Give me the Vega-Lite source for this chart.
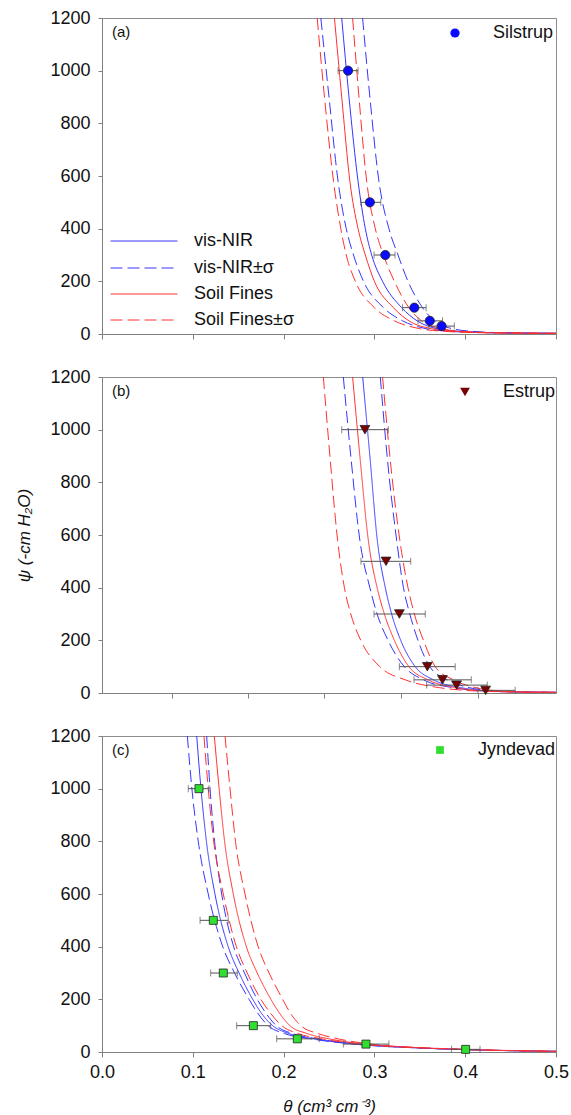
{
"$schema": "https://vega.github.io/schema/vega-lite/v6.json",
"padding": {"left": 15, "top": 8, "right": 5, "bottom": 0},
"spacing": 23,
"config": {
 "font": "Liberation Sans",
 "view": {"stroke": "#8c8c8c"},
 "axis": {"domainColor": "#808080", "tickColor": "#808080", "labelColor": "#111", "labelFontSize": 18, "labelFont": "Liberation Sans", "titleFont": "Liberation Sans", "titleFontSize": 17, "titleFontWeight": "normal", "titleFontStyle": "italic", "titleColor": "#111", "grid": false, "tickSize": 5, "labelPadding": 8},
 "axisX": {"labelFlush": false},
 "legend": {"labelFont": "Liberation Sans", "labelFontSize": 18, "labelColor": "#111"},
 "title": {"font": "Liberation Sans", "fontSize": 15, "fontWeight": "normal", "color": "#111"}
},
"datasets": {
"curves": [
{"p":"a","c":"Soil Fines±σ","id":"RDL","t":0.237,"y":1200},{"p":"a","c":"Soil Fines±σ","id":"RDL","t":0.245,"y":900},{"p":"a","c":"Soil Fines±σ","id":"RDL","t":0.255,"y":580},{"p":"a","c":"Soil Fines±σ","id":"RDL","t":0.263,"y":400},{"p":"a","c":"Soil Fines±σ","id":"RDL","t":0.269,"y":300},{"p":"a","c":"Soil Fines±σ","id":"RDL","t":0.279,"y":200},{"p":"a","c":"Soil Fines±σ","id":"RDL","t":0.300,"y":100},{"p":"a","c":"Soil Fines±σ","id":"RDL","t":0.322,"y":50},{"p":"a","c":"Soil Fines±σ","id":"RDL","t":0.350,"y":20},{"p":"a","c":"Soil Fines±σ","id":"RDL","t":0.378,"y":10},{"p":"a","c":"Soil Fines±σ","id":"RDL","t":0.415,"y":5},{"p":"a","c":"Soil Fines±σ","id":"RDL","t":0.5,"y":2.5},
{"p":"a","c":"vis-NIR±σ","id":"BDL","t":0.241,"y":1200},{"p":"a","c":"vis-NIR±σ","id":"BDL","t":0.250,"y":900},{"p":"a","c":"vis-NIR±σ","id":"BDL","t":0.260,"y":580},{"p":"a","c":"vis-NIR±σ","id":"BDL","t":0.269,"y":400},{"p":"a","c":"vis-NIR±σ","id":"BDL","t":0.277,"y":300},{"p":"a","c":"vis-NIR±σ","id":"BDL","t":0.288,"y":200},{"p":"a","c":"vis-NIR±σ","id":"BDL","t":0.310,"y":100},{"p":"a","c":"vis-NIR±σ","id":"BDL","t":0.331,"y":50},{"p":"a","c":"vis-NIR±σ","id":"BDL","t":0.357,"y":20},{"p":"a","c":"vis-NIR±σ","id":"BDL","t":0.384,"y":10},{"p":"a","c":"vis-NIR±σ","id":"BDL","t":0.420,"y":5},{"p":"a","c":"vis-NIR±σ","id":"BDL","t":0.5,"y":2.5},
{"p":"a","c":"Soil Fines","id":"RS","t":0.256,"y":1200},{"p":"a","c":"Soil Fines","id":"RS","t":0.264,"y":900},{"p":"a","c":"Soil Fines","id":"RS","t":0.273,"y":580},{"p":"a","c":"Soil Fines","id":"RS","t":0.282,"y":400},{"p":"a","c":"Soil Fines","id":"RS","t":0.290,"y":300},{"p":"a","c":"Soil Fines","id":"RS","t":0.300,"y":200},{"p":"a","c":"Soil Fines","id":"RS","t":0.321,"y":100},{"p":"a","c":"Soil Fines","id":"RS","t":0.338,"y":50},{"p":"a","c":"Soil Fines","id":"RS","t":0.363,"y":20},{"p":"a","c":"Soil Fines","id":"RS","t":0.389,"y":10},{"p":"a","c":"Soil Fines","id":"RS","t":0.425,"y":5},{"p":"a","c":"Soil Fines","id":"RS","t":0.5,"y":2.5},
{"p":"a","c":"vis-NIR","id":"BS","t":0.264,"y":1200},{"p":"a","c":"vis-NIR","id":"BS","t":0.272,"y":900},{"p":"a","c":"vis-NIR","id":"BS","t":0.282,"y":580},{"p":"a","c":"vis-NIR","id":"BS","t":0.290,"y":400},{"p":"a","c":"vis-NIR","id":"BS","t":0.297,"y":300},{"p":"a","c":"vis-NIR","id":"BS","t":0.309,"y":200},{"p":"a","c":"vis-NIR","id":"BS","t":0.330,"y":100},{"p":"a","c":"vis-NIR","id":"BS","t":0.347,"y":50},{"p":"a","c":"vis-NIR","id":"BS","t":0.369,"y":20},{"p":"a","c":"vis-NIR","id":"BS","t":0.394,"y":10},{"p":"a","c":"vis-NIR","id":"BS","t":0.430,"y":5},{"p":"a","c":"vis-NIR","id":"BS","t":0.5,"y":2.5},
{"p":"a","c":"Soil Fines±σ","id":"RDR","t":0.276,"y":1200},{"p":"a","c":"Soil Fines±σ","id":"RDR","t":0.283,"y":900},{"p":"a","c":"Soil Fines±σ","id":"RDR","t":0.2915,"y":580},{"p":"a","c":"Soil Fines±σ","id":"RDR","t":0.301,"y":400},{"p":"a","c":"Soil Fines±σ","id":"RDR","t":0.310,"y":300},{"p":"a","c":"Soil Fines±σ","id":"RDR","t":0.322,"y":200},{"p":"a","c":"Soil Fines±σ","id":"RDR","t":0.338,"y":100},{"p":"a","c":"Soil Fines±σ","id":"RDR","t":0.352,"y":50},{"p":"a","c":"Soil Fines±σ","id":"RDR","t":0.374,"y":20},{"p":"a","c":"Soil Fines±σ","id":"RDR","t":0.398,"y":10},{"p":"a","c":"Soil Fines±σ","id":"RDR","t":0.433,"y":5},{"p":"a","c":"Soil Fines±σ","id":"RDR","t":0.5,"y":2.5},
{"p":"a","c":"vis-NIR±σ","id":"BDR","t":0.287,"y":1200},{"p":"a","c":"vis-NIR±σ","id":"BDR","t":0.295,"y":900},{"p":"a","c":"vis-NIR±σ","id":"BDR","t":0.305,"y":580},{"p":"a","c":"vis-NIR±σ","id":"BDR","t":0.316,"y":400},{"p":"a","c":"vis-NIR±σ","id":"BDR","t":0.326,"y":300},{"p":"a","c":"vis-NIR±σ","id":"BDR","t":0.337,"y":200},{"p":"a","c":"vis-NIR±σ","id":"BDR","t":0.353,"y":100},{"p":"a","c":"vis-NIR±σ","id":"BDR","t":0.366,"y":50},{"p":"a","c":"vis-NIR±σ","id":"BDR","t":0.386,"y":20},{"p":"a","c":"vis-NIR±σ","id":"BDR","t":0.408,"y":10},{"p":"a","c":"vis-NIR±σ","id":"BDR","t":0.440,"y":5},{"p":"a","c":"vis-NIR±σ","id":"BDR","t":0.5,"y":2.5},

{"p":"b","c":"Soil Fines±σ","id":"RDL","t":0.2438,"y":1200},{"p":"b","c":"Soil Fines±σ","id":"RDL","t":0.251,"y":900},{"p":"b","c":"Soil Fines±σ","id":"RDL","t":0.2595,"y":580},{"p":"b","c":"Soil Fines±σ","id":"RDL","t":0.267,"y":400},{"p":"b","c":"Soil Fines±σ","id":"RDL","t":0.274,"y":300},{"p":"b","c":"Soil Fines±σ","id":"RDL","t":0.285,"y":200},{"p":"b","c":"Soil Fines±σ","id":"RDL","t":0.306,"y":100},{"p":"b","c":"Soil Fines±σ","id":"RDL","t":0.334,"y":50},{"p":"b","c":"Soil Fines±σ","id":"RDL","t":0.372,"y":20},{"p":"b","c":"Soil Fines±σ","id":"RDL","t":0.400,"y":10},{"p":"b","c":"Soil Fines±σ","id":"RDL","t":0.435,"y":5},{"p":"b","c":"Soil Fines±σ","id":"RDL","t":0.5,"y":2.5},
{"p":"b","c":"vis-NIR±σ","id":"BDL","t":0.2658,"y":1200},{"p":"b","c":"vis-NIR±σ","id":"BDL","t":0.274,"y":900},{"p":"b","c":"vis-NIR±σ","id":"BDL","t":0.284,"y":580},{"p":"b","c":"vis-NIR±σ","id":"BDL","t":0.295,"y":400},{"p":"b","c":"vis-NIR±σ","id":"BDL","t":0.303,"y":300},{"p":"b","c":"vis-NIR±σ","id":"BDL","t":0.315,"y":200},{"p":"b","c":"vis-NIR±σ","id":"BDL","t":0.333,"y":100},{"p":"b","c":"vis-NIR±σ","id":"BDL","t":0.354,"y":50},{"p":"b","c":"vis-NIR±σ","id":"BDL","t":0.387,"y":20},{"p":"b","c":"vis-NIR±σ","id":"BDL","t":0.410,"y":10},{"p":"b","c":"vis-NIR±σ","id":"BDL","t":0.440,"y":5},{"p":"b","c":"vis-NIR±σ","id":"BDL","t":0.5,"y":2.5},
{"p":"b","c":"Soil Fines","id":"RS","t":0.276,"y":1200},{"p":"b","c":"Soil Fines","id":"RS","t":0.284,"y":900},{"p":"b","c":"Soil Fines","id":"RS","t":0.2933,"y":580},{"p":"b","c":"Soil Fines","id":"RS","t":0.303,"y":400},{"p":"b","c":"Soil Fines","id":"RS","t":0.311,"y":300},{"p":"b","c":"Soil Fines","id":"RS","t":0.322,"y":200},{"p":"b","c":"Soil Fines","id":"RS","t":0.338,"y":100},{"p":"b","c":"Soil Fines","id":"RS","t":0.359,"y":50},{"p":"b","c":"Soil Fines","id":"RS","t":0.390,"y":20},{"p":"b","c":"Soil Fines","id":"RS","t":0.413,"y":10},{"p":"b","c":"Soil Fines","id":"RS","t":0.443,"y":5},{"p":"b","c":"Soil Fines","id":"RS","t":0.5,"y":2.5},
{"p":"b","c":"vis-NIR","id":"BS","t":0.2871,"y":1200},{"p":"b","c":"vis-NIR","id":"BS","t":0.295,"y":900},{"p":"b","c":"vis-NIR","id":"BS","t":0.3032,"y":580},{"p":"b","c":"vis-NIR","id":"BS","t":0.312,"y":400},{"p":"b","c":"vis-NIR","id":"BS","t":0.319,"y":300},{"p":"b","c":"vis-NIR","id":"BS","t":0.329,"y":200},{"p":"b","c":"vis-NIR","id":"BS","t":0.345,"y":100},{"p":"b","c":"vis-NIR","id":"BS","t":0.365,"y":50},{"p":"b","c":"vis-NIR","id":"BS","t":0.396,"y":20},{"p":"b","c":"vis-NIR","id":"BS","t":0.418,"y":10},{"p":"b","c":"vis-NIR","id":"BS","t":0.446,"y":5},{"p":"b","c":"vis-NIR","id":"BS","t":0.5,"y":2.5},
{"p":"b","c":"vis-NIR±σ","id":"BDR","t":0.3065,"y":1200},{"p":"b","c":"vis-NIR±σ","id":"BDR","t":0.314,"y":900},{"p":"b","c":"vis-NIR±σ","id":"BDR","t":0.3245,"y":580},{"p":"b","c":"vis-NIR±σ","id":"BDR","t":0.332,"y":400},{"p":"b","c":"vis-NIR±σ","id":"BDR","t":0.339,"y":300},{"p":"b","c":"vis-NIR±σ","id":"BDR","t":0.348,"y":200},{"p":"b","c":"vis-NIR±σ","id":"BDR","t":0.361,"y":100},{"p":"b","c":"vis-NIR±σ","id":"BDR","t":0.380,"y":50},{"p":"b","c":"vis-NIR±σ","id":"BDR","t":0.405,"y":20},{"p":"b","c":"vis-NIR±σ","id":"BDR","t":0.425,"y":10},{"p":"b","c":"vis-NIR±σ","id":"BDR","t":0.452,"y":5},{"p":"b","c":"vis-NIR±σ","id":"BDR","t":0.5,"y":2.5},
{"p":"b","c":"Soil Fines±σ","id":"RDR","t":0.309,"y":1200},{"p":"b","c":"Soil Fines±σ","id":"RDR","t":0.317,"y":900},{"p":"b","c":"Soil Fines±σ","id":"RDR","t":0.328,"y":580},{"p":"b","c":"Soil Fines±σ","id":"RDR","t":0.337,"y":400},{"p":"b","c":"Soil Fines±σ","id":"RDR","t":0.344,"y":300},{"p":"b","c":"Soil Fines±σ","id":"RDR","t":0.354,"y":200},{"p":"b","c":"Soil Fines±σ","id":"RDR","t":0.367,"y":100},{"p":"b","c":"Soil Fines±σ","id":"RDR","t":0.387,"y":50},{"p":"b","c":"Soil Fines±σ","id":"RDR","t":0.412,"y":20},{"p":"b","c":"Soil Fines±σ","id":"RDR","t":0.430,"y":10},{"p":"b","c":"Soil Fines±σ","id":"RDR","t":0.455,"y":5},{"p":"b","c":"Soil Fines±σ","id":"RDR","t":0.5,"y":2.5},

{"p":"c","c":"vis-NIR±σ","id":"BDL","t":0.094,"y":1200},{"p":"c","c":"vis-NIR±σ","id":"BDL","t":0.099,"y":1000},{"p":"c","c":"vis-NIR±σ","id":"BDL","t":0.106,"y":800},{"p":"c","c":"vis-NIR±σ","id":"BDL","t":0.117,"y":600},{"p":"c","c":"vis-NIR±σ","id":"BDL","t":0.133,"y":400},{"p":"c","c":"vis-NIR±σ","id":"BDL","t":0.146,"y":300},{"p":"c","c":"vis-NIR±σ","id":"BDL","t":0.162,"y":200},{"p":"c","c":"vis-NIR±σ","id":"BDL","t":0.171,"y":150},{"p":"c","c":"vis-NIR±σ","id":"BDL","t":0.183,"y":100},{"p":"c","c":"vis-NIR±σ","id":"BDL","t":0.201,"y":70},{"p":"c","c":"vis-NIR±σ","id":"BDL","t":0.230,"y":50},{"p":"c","c":"vis-NIR±σ","id":"BDL","t":0.277,"y":30},{"p":"c","c":"vis-NIR±σ","id":"BDL","t":0.350,"y":15},{"p":"c","c":"vis-NIR±σ","id":"BDL","t":0.410,"y":8},{"p":"c","c":"vis-NIR±σ","id":"BDL","t":0.5,"y":2.5},
{"p":"c","c":"vis-NIR","id":"BS","t":0.1043,"y":1200},{"p":"c","c":"vis-NIR","id":"BS","t":0.109,"y":1000},{"p":"c","c":"vis-NIR","id":"BS","t":0.115,"y":800},{"p":"c","c":"vis-NIR","id":"BS","t":0.1244,"y":600},{"p":"c","c":"vis-NIR","id":"BS","t":0.139,"y":400},{"p":"c","c":"vis-NIR","id":"BS","t":0.151,"y":300},{"p":"c","c":"vis-NIR","id":"BS","t":0.166,"y":200},{"p":"c","c":"vis-NIR","id":"BS","t":0.175,"y":150},{"p":"c","c":"vis-NIR","id":"BS","t":0.188,"y":100},{"p":"c","c":"vis-NIR","id":"BS","t":0.206,"y":70},{"p":"c","c":"vis-NIR","id":"BS","t":0.234,"y":50},{"p":"c","c":"vis-NIR","id":"BS","t":0.280,"y":30},{"p":"c","c":"vis-NIR","id":"BS","t":0.352,"y":15},{"p":"c","c":"vis-NIR","id":"BS","t":0.412,"y":8},{"p":"c","c":"vis-NIR","id":"BS","t":0.5,"y":2.5},
{"p":"c","c":"vis-NIR±σ","id":"BDR","t":0.1153,"y":1200},{"p":"c","c":"vis-NIR±σ","id":"BDR","t":0.119,"y":1000},{"p":"c","c":"vis-NIR±σ","id":"BDR","t":0.124,"y":800},{"p":"c","c":"vis-NIR±σ","id":"BDR","t":0.1318,"y":600},{"p":"c","c":"vis-NIR±σ","id":"BDR","t":0.145,"y":400},{"p":"c","c":"vis-NIR±σ","id":"BDR","t":0.157,"y":300},{"p":"c","c":"vis-NIR±σ","id":"BDR","t":0.171,"y":200},{"p":"c","c":"vis-NIR±σ","id":"BDR","t":0.180,"y":150},{"p":"c","c":"vis-NIR±σ","id":"BDR","t":0.192,"y":100},{"p":"c","c":"vis-NIR±σ","id":"BDR","t":0.210,"y":70},{"p":"c","c":"vis-NIR±σ","id":"BDR","t":0.237,"y":50},{"p":"c","c":"vis-NIR±σ","id":"BDR","t":0.282,"y":30},{"p":"c","c":"vis-NIR±σ","id":"BDR","t":0.354,"y":15},{"p":"c","c":"vis-NIR±σ","id":"BDR","t":0.414,"y":8},{"p":"c","c":"vis-NIR±σ","id":"BDR","t":0.5,"y":2.5},
{"p":"c","c":"Soil Fines±σ","id":"RDL","t":0.1123,"y":1200},{"p":"c","c":"Soil Fines±σ","id":"RDL","t":0.117,"y":1000},{"p":"c","c":"Soil Fines±σ","id":"RDL","t":0.123,"y":800},{"p":"c","c":"Soil Fines±σ","id":"RDL","t":0.1336,"y":600},{"p":"c","c":"Soil Fines±σ","id":"RDL","t":0.148,"y":400},{"p":"c","c":"Soil Fines±σ","id":"RDL","t":0.160,"y":300},{"p":"c","c":"Soil Fines±σ","id":"RDL","t":0.175,"y":200},{"p":"c","c":"Soil Fines±σ","id":"RDL","t":0.185,"y":150},{"p":"c","c":"Soil Fines±σ","id":"RDL","t":0.198,"y":100},{"p":"c","c":"Soil Fines±σ","id":"RDL","t":0.216,"y":70},{"p":"c","c":"Soil Fines±σ","id":"RDL","t":0.242,"y":50},{"p":"c","c":"Soil Fines±σ","id":"RDL","t":0.285,"y":30},{"p":"c","c":"Soil Fines±σ","id":"RDL","t":0.356,"y":15},{"p":"c","c":"Soil Fines±σ","id":"RDL","t":0.415,"y":8},{"p":"c","c":"Soil Fines±σ","id":"RDL","t":0.5,"y":2.5},
{"p":"c","c":"Soil Fines","id":"RS","t":0.1237,"y":1200},{"p":"c","c":"Soil Fines","id":"RS","t":0.129,"y":1000},{"p":"c","c":"Soil Fines","id":"RS","t":0.135,"y":800},{"p":"c","c":"Soil Fines","id":"RS","t":0.1446,"y":600},{"p":"c","c":"Soil Fines","id":"RS","t":0.159,"y":400},{"p":"c","c":"Soil Fines","id":"RS","t":0.171,"y":300},{"p":"c","c":"Soil Fines","id":"RS","t":0.186,"y":200},{"p":"c","c":"Soil Fines","id":"RS","t":0.195,"y":150},{"p":"c","c":"Soil Fines","id":"RS","t":0.207,"y":100},{"p":"c","c":"Soil Fines","id":"RS","t":0.226,"y":70},{"p":"c","c":"Soil Fines","id":"RS","t":0.250,"y":50},{"p":"c","c":"Soil Fines","id":"RS","t":0.290,"y":30},{"p":"c","c":"Soil Fines","id":"RS","t":0.358,"y":15},{"p":"c","c":"Soil Fines","id":"RS","t":0.417,"y":8},{"p":"c","c":"Soil Fines","id":"RS","t":0.5,"y":2.5},
{"p":"c","c":"Soil Fines±σ","id":"RDR","t":0.1355,"y":1200},{"p":"c","c":"Soil Fines±σ","id":"RDR","t":0.141,"y":1000},{"p":"c","c":"Soil Fines±σ","id":"RDR","t":0.147,"y":800},{"p":"c","c":"Soil Fines±σ","id":"RDR","t":0.1575,"y":600},{"p":"c","c":"Soil Fines±σ","id":"RDR","t":0.172,"y":400},{"p":"c","c":"Soil Fines±σ","id":"RDR","t":0.184,"y":300},{"p":"c","c":"Soil Fines±σ","id":"RDR","t":0.199,"y":200},{"p":"c","c":"Soil Fines±σ","id":"RDR","t":0.207,"y":150},{"p":"c","c":"Soil Fines±σ","id":"RDR","t":0.219,"y":100},{"p":"c","c":"Soil Fines±σ","id":"RDR","t":0.238,"y":70},{"p":"c","c":"Soil Fines±σ","id":"RDR","t":0.260,"y":50},{"p":"c","c":"Soil Fines±σ","id":"RDR","t":0.296,"y":30},{"p":"c","c":"Soil Fines±σ","id":"RDR","t":0.362,"y":15},{"p":"c","c":"Soil Fines±σ","id":"RDR","t":0.420,"y":8},{"p":"c","c":"Soil Fines±σ","id":"RDR","t":0.5,"y":2.5}
],
"pts": [
{"p":"a","site":"Silstrup","t":0.271,"y":1000,"lo":0.260,"hi":0.282},
{"p":"a","site":"Silstrup","t":0.295,"y":500,"lo":0.285,"hi":0.307},
{"p":"a","site":"Silstrup","t":0.312,"y":300,"lo":0.2996,"hi":0.3227},
{"p":"a","site":"Silstrup","t":0.344,"y":100,"lo":0.331,"hi":0.357},
{"p":"a","site":"Silstrup","t":0.361,"y":50,"lo":0.348,"hi":0.375},
{"p":"a","site":"Silstrup","t":0.374,"y":30,"lo":0.360,"hi":0.388},
{"p":"b","site":"Estrup","t":0.2896,"y":1000,"lo":0.264,"hi":0.3153},
{"p":"b","site":"Estrup","t":0.3128,"y":500,"lo":0.2852,"hi":0.340},
{"p":"b","site":"Estrup","t":0.3275,"y":300,"lo":0.2996,"hi":0.356},
{"p":"b","site":"Estrup","t":0.3583,"y":100,"lo":0.3275,"hi":0.389},
{"p":"b","site":"Estrup","t":0.375,"y":50,"lo":0.3436,"hi":0.4067},
{"p":"b","site":"Estrup","t":0.3905,"y":30,"lo":0.3575,"hi":0.4243},
{"p":"b","site":"Estrup","t":0.4225,"y":10,"lo":0.414,"hi":0.455},
{"p":"c","site":"Jyndevad","t":0.1068,"y":1000,"lo":0.095,"hi":0.1178},
{"p":"c","site":"Jyndevad","t":0.1226,"y":500,"lo":0.108,"hi":0.139},
{"p":"c","site":"Jyndevad","t":0.1336,"y":300,"lo":0.1197,"hi":0.149},
{"p":"c","site":"Jyndevad","t":0.1667,"y":100,"lo":0.1483,"hi":0.1858},
{"p":"c","site":"Jyndevad","t":0.2151,"y":50,"lo":0.1924,"hi":0.2393},
{"p":"c","site":"Jyndevad","t":0.2907,"y":30,"lo":0.2658,"hi":0.316},
{"p":"c","site":"Jyndevad","t":0.4005,"y":10,"lo":0.385,"hi":0.4163}
]
},
"resolve": {"scale": {"color": "independent", "strokeDash": "independent", "fill": "independent", "shape": "independent", "x": "independent", "y": "independent"}, "legend": {"color": "independent", "strokeDash": "independent", "fill": "independent", "shape": "independent"}},
"vconcat": [
{
 "width": 454, "height": 316,
 "title": {"text": "(a)", "anchor": "start", "frame": "group", "dx": 10, "dy": 14, "offset": -24, "baseline": "middle"},
 "resolve": {"scale": {"color": "independent"}, "legend": {"color": "independent"}},
 "layer": [
  {"data": {"name": "curves"}, "transform": [{"filter": "datum.p == 'a' && datum.c == 'vis-NIR'"}],
   "mark": {"type": "line", "strokeWidth": 1, "interpolate": "monotone"},
   "encoding": {
    "x": {"field": "t", "type": "quantitative", "scale": {"domain": [0, 0.5], "nice": false}, "axis": {"values": [0, 0.1, 0.2, 0.3, 0.4, 0.5], "labels": false, "title": null}},
    "y": {"field": "y", "type": "quantitative", "scale": {"domain": [0, 1200], "nice": false}, "axis": {"values": [0, 200, 400, 600, 800, 1000, 1200], "format": "d", "title": null, "tickSize": 4}},
    "color": {"field": "c", "type": "nominal", "scale": {"domain": ["vis-NIR"], "range": ["#3535ff"]},
     "legend": {"title": null, "orient": "none", "legendX": 8, "legendY": 189, "symbolType": "stroke", "symbolSize": 4489, "symbolStrokeWidth": 1, "symbolStrokeColor": "#3535ff", "labelOffset": 16, "padding": 0}},
    "detail": {"field": "id"}
   }},
  {"data": {"name": "curves"}, "transform": [{"filter": "datum.p == 'a' && datum.c == 'vis-NIR±σ'"}],
   "mark": {"type": "line", "strokeWidth": 1, "interpolate": "monotone", "strokeDash": [12, 5]},
   "encoding": {
    "x": {"field": "t", "type": "quantitative"},
    "y": {"field": "y", "type": "quantitative"},
    "color": {"field": "c", "type": "nominal", "scale": {"domain": ["vis-NIR±σ"], "range": ["#3535ff"]},
     "legend": {"title": null, "orient": "none", "legendX": 8, "legendY": 216, "symbolType": "stroke", "symbolSize": 4489, "symbolStrokeWidth": 1, "symbolStrokeColor": "#3535ff", "symbolDash": [12, 5], "labelOffset": 16, "padding": 0}},
    "detail": {"field": "id"}
   }},
  {"data": {"name": "curves"}, "transform": [{"filter": "datum.p == 'a' && datum.c == 'Soil Fines'"}],
   "mark": {"type": "line", "strokeWidth": 1, "interpolate": "monotone"},
   "encoding": {
    "x": {"field": "t", "type": "quantitative"},
    "y": {"field": "y", "type": "quantitative"},
    "color": {"field": "c", "type": "nominal", "scale": {"domain": ["Soil Fines"], "range": ["#ff3030"]},
     "legend": {"title": null, "orient": "none", "legendX": 8, "legendY": 242, "symbolType": "stroke", "symbolSize": 4489, "symbolStrokeWidth": 1, "symbolStrokeColor": "#ff3030", "labelOffset": 16, "padding": 0}},
    "detail": {"field": "id"}
   }},
  {"data": {"name": "curves"}, "transform": [{"filter": "datum.p == 'a' && datum.c == 'Soil Fines±σ'"}],
   "mark": {"type": "line", "strokeWidth": 1, "interpolate": "monotone", "strokeDash": [12, 5]},
   "encoding": {
    "x": {"field": "t", "type": "quantitative"},
    "y": {"field": "y", "type": "quantitative"},
    "color": {"field": "c", "type": "nominal", "scale": {"domain": ["Soil Fines±σ"], "range": ["#ff3030"]},
     "legend": {"title": null, "orient": "none", "legendX": 8, "legendY": 268, "symbolType": "stroke", "symbolSize": 4489, "symbolStrokeWidth": 1, "symbolStrokeColor": "#ff3030", "symbolDash": [12, 5], "labelOffset": 16, "padding": 0}},
    "detail": {"field": "id"}
   }},
  {"data": {"name": "pts"}, "transform": [{"filter": "datum.p == 'a'"}], "mark": {"type": "rule", "color": "#555", "strokeWidth": 1},
   "encoding": {"x": {"field": "lo", "type": "quantitative"}, "x2": {"field": "hi"}, "y": {"field": "y", "type": "quantitative"}}},
  {"data": {"name": "pts"}, "transform": [{"filter": "datum.p == 'a'"}], "mark": {"type": "tick", "orient": "vertical", "size": 7, "thickness": 1, "color": "#555"},
   "encoding": {"x": {"field": "lo", "type": "quantitative"}, "y": {"field": "y", "type": "quantitative"}}},
  {"data": {"name": "pts"}, "transform": [{"filter": "datum.p == 'a'"}], "mark": {"type": "tick", "orient": "vertical", "size": 7, "thickness": 1, "color": "#555"},
   "encoding": {"x": {"field": "hi", "type": "quantitative"}, "y": {"field": "y", "type": "quantitative"}}},
  {"data": {"name": "pts"}, "transform": [{"filter": "datum.p == 'a'"}], "mark": {"type": "point", "filled": true, "size": 85, "stroke": "#222", "strokeWidth": 0.8, "opacity": 1},
   "encoding": {"x": {"field": "t", "type": "quantitative"}, "y": {"field": "y", "type": "quantitative"},
    "fill": {"field": "site", "type": "nominal", "scale": {"domain": ["Silstrup"], "range": ["#0a0aff"]}, "legend": {"title": null, "orient": "none", "legendX": 344, "legendY": 6, "padding": 0, "labelOffset": 29, "symbolSize": 85, "symbolStrokeColor": "#222", "symbolStrokeWidth": 0.8}},
    "shape": {"field": "site", "type": "nominal", "scale": {"domain": ["Silstrup"], "range": ["circle"]}, "legend": {"title": null, "orient": "none", "legendX": 344, "legendY": 6, "padding": 0, "labelOffset": 29, "symbolSize": 85, "symbolStrokeColor": "#222", "symbolStrokeWidth": 0.8}}}}
 ]
},
{
 "width": 454, "height": 316,
 "title": {"text": "(b)", "anchor": "start", "frame": "group", "dx": 10, "dy": 14, "offset": -24, "baseline": "middle"},
 "layer": [
  {"data": {"name": "curves"}, "transform": [{"filter": "datum.p == 'b' && indexof(datum.c, 'vis') == 0"}],
   "mark": {"type": "line", "strokeWidth": 1, "interpolate": "monotone", "color": "#3535ff"},
   "encoding": {
    "x": {"field": "t", "type": "quantitative", "scale": {"domain": [0, 0.5], "nice": false}, "axis": {"values": [0.0768, 0.1611, 0.2448, 0.3293, 0.4144], "labels": false, "title": null}},
    "y": {"field": "y", "type": "quantitative", "scale": {"domain": [0, 1200], "nice": false}, "axis": {"values": [0, 200, 400, 600, 800, 1000, 1200], "format": "d", "title": "ψ  (-cm H₂O)", "tickSize": 4, "titlePadding": 16}},
    "strokeDash": {"field": "c", "type": "nominal", "scale": {"domain": ["vis-NIR", "vis-NIR±σ", "Soil Fines", "Soil Fines±σ"], "range": [[1, 0], [12, 5], [1, 0], [12, 5]]}, "legend": null},
    "detail": {"field": "id"}
   }},
  {"data": {"name": "curves"}, "transform": [{"filter": "datum.p == 'b' && indexof(datum.c, 'Soil') == 0"}],
   "mark": {"type": "line", "strokeWidth": 1, "interpolate": "monotone", "color": "#ff3030"},
   "encoding": {
    "x": {"field": "t", "type": "quantitative"},
    "y": {"field": "y", "type": "quantitative"},
    "strokeDash": {"field": "c", "type": "nominal", "legend": null},
    "detail": {"field": "id"}
   }},
  {"data": {"name": "pts"}, "transform": [{"filter": "datum.p == 'b'"}], "mark": {"type": "rule", "color": "#555", "strokeWidth": 1},
   "encoding": {"x": {"field": "lo", "type": "quantitative"}, "x2": {"field": "hi"}, "y": {"field": "y", "type": "quantitative"}}},
  {"data": {"name": "pts"}, "transform": [{"filter": "datum.p == 'b'"}], "mark": {"type": "tick", "orient": "vertical", "size": 7, "thickness": 1, "color": "#555"},
   "encoding": {"x": {"field": "lo", "type": "quantitative"}, "y": {"field": "y", "type": "quantitative"}}},
  {"data": {"name": "pts"}, "transform": [{"filter": "datum.p == 'b'"}], "mark": {"type": "tick", "orient": "vertical", "size": 7, "thickness": 1, "color": "#555"},
   "encoding": {"x": {"field": "hi", "type": "quantitative"}, "y": {"field": "y", "type": "quantitative"}}},
  {"data": {"name": "pts"}, "transform": [{"filter": "datum.p == 'b'"}], "mark": {"type": "point", "filled": true, "size": 95, "stroke": "#222", "strokeWidth": 0.8, "opacity": 1},
   "encoding": {"x": {"field": "t", "type": "quantitative"}, "y": {"field": "y", "type": "quantitative"},
    "fill": {"field": "site", "type": "nominal", "scale": {"domain": ["Estrup"], "range": ["#7a0000"]}, "legend": {"title": null, "orient": "none", "legendX": 354, "legendY": 6, "padding": 0, "labelOffset": 29, "symbolSize": 95, "symbolStrokeColor": "#222", "symbolStrokeWidth": 0.8}},
    "shape": {"field": "site", "type": "nominal", "scale": {"domain": ["Estrup"], "range": ["triangle-down"]}, "legend": {"title": null, "orient": "none", "legendX": 354, "legendY": 6, "padding": 0, "labelOffset": 29, "symbolSize": 95, "symbolStrokeColor": "#222", "symbolStrokeWidth": 0.8}}}}
 ]
},
{
 "width": 454, "height": 316,
 "title": {"text": "(c)", "anchor": "start", "frame": "group", "dx": 10, "dy": 14, "offset": -24, "baseline": "middle"},
 "layer": [
  {"data": {"name": "curves"}, "transform": [{"filter": "datum.p == 'c' && indexof(datum.c, 'vis') == 0"}],
   "mark": {"type": "line", "strokeWidth": 1, "interpolate": "monotone", "color": "#3535ff"},
   "encoding": {
    "x": {"field": "t", "type": "quantitative", "scale": {"domain": [0, 0.5], "nice": false}, "axis": {"values": [0, 0.1, 0.2, 0.3, 0.4, 0.5], "format": ".1f", "title": "θ (cm³ cm⁻³)", "labelPadding": 6, "titlePadding": 17}},
    "y": {"field": "y", "type": "quantitative", "scale": {"domain": [0, 1200], "nice": false}, "axis": {"values": [0, 200, 400, 600, 800, 1000, 1200], "format": "d", "title": null, "tickSize": 4}},
    "strokeDash": {"field": "c", "type": "nominal", "scale": {"domain": ["vis-NIR", "vis-NIR±σ", "Soil Fines", "Soil Fines±σ"], "range": [[1, 0], [12, 5], [1, 0], [12, 5]]}, "legend": null},
    "detail": {"field": "id"}
   }},
  {"data": {"name": "curves"}, "transform": [{"filter": "datum.p == 'c' && indexof(datum.c, 'Soil') == 0"}],
   "mark": {"type": "line", "strokeWidth": 1, "interpolate": "monotone", "color": "#ff3030"},
   "encoding": {
    "x": {"field": "t", "type": "quantitative"},
    "y": {"field": "y", "type": "quantitative"},
    "strokeDash": {"field": "c", "type": "nominal", "legend": null},
    "detail": {"field": "id"}
   }},
  {"data": {"name": "pts"}, "transform": [{"filter": "datum.p == 'c'"}], "mark": {"type": "rule", "color": "#555", "strokeWidth": 1},
   "encoding": {"x": {"field": "lo", "type": "quantitative"}, "x2": {"field": "hi"}, "y": {"field": "y", "type": "quantitative"}}},
  {"data": {"name": "pts"}, "transform": [{"filter": "datum.p == 'c'"}], "mark": {"type": "tick", "orient": "vertical", "size": 7, "thickness": 1, "color": "#555"},
   "encoding": {"x": {"field": "lo", "type": "quantitative"}, "y": {"field": "y", "type": "quantitative"}}},
  {"data": {"name": "pts"}, "transform": [{"filter": "datum.p == 'c'"}], "mark": {"type": "tick", "orient": "vertical", "size": 7, "thickness": 1, "color": "#555"},
   "encoding": {"x": {"field": "hi", "type": "quantitative"}, "y": {"field": "y", "type": "quantitative"}}},
  {"data": {"name": "pts"}, "transform": [{"filter": "datum.p == 'c'"}], "mark": {"type": "point", "filled": true, "size": 64, "stroke": "#222", "strokeWidth": 0.8, "opacity": 1},
   "encoding": {"x": {"field": "t", "type": "quantitative"}, "y": {"field": "y", "type": "quantitative"},
    "fill": {"field": "site", "type": "nominal", "scale": {"domain": ["Jyndevad"], "range": ["#30e030"]}, "legend": {"title": null, "orient": "none", "legendX": 329, "legendY": 5, "padding": 0, "labelOffset": 29, "symbolSize": 60, "symbolStrokeColor": "#222", "symbolStrokeWidth": 0.8}},
    "shape": {"field": "site", "type": "nominal", "scale": {"domain": ["Jyndevad"], "range": ["square"]}, "legend": {"title": null, "orient": "none", "legendX": 329, "legendY": 5, "padding": 0, "labelOffset": 29, "symbolSize": 60, "symbolStrokeColor": "#222", "symbolStrokeWidth": 0.8}}}}
 ]
}
]
}
